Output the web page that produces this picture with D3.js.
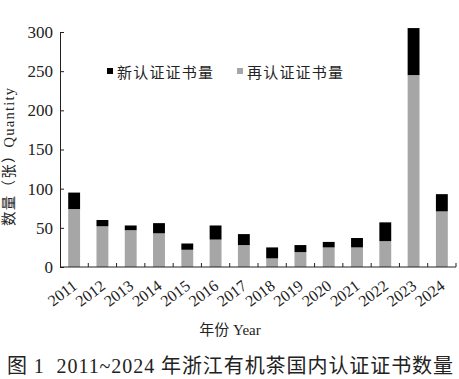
<!DOCTYPE html>
<html><head><meta charset="utf-8">
<script src="https://cdn.jsdelivr.net/npm/d3@7"></script>
<style>
html,body{margin:0;padding:0;background:#fff;}
svg{display:block;}
text{font-family:"Liberation Serif","Noto Sans CJK SC",serif;fill:#222;}
</style></head><body>
<svg id="c" width="459" height="379"></svg>
<script>
const years = ["2011","2012","2013","2014","2015","2016","2017","2018","2019","2020","2021","2022","2023","2024"];
const renewCerts = [74,52,47,43,22,35,28,11,19,25,25,33,245,71];
const newCerts   = [21,8,6,13,8,18,14,14,9,7,12,24,60,22];
const yTicks = [0,50,100,150,200,250,300];
const seriesNames = ["新认证证书量","再认证证书量"];
const seriesColors = ["#000000","#a6a6a6"];

const svg = d3.select("#c");
const x0 = 60, x1 = 456, yBase = 267, yTop = 32;

const x = d3.scaleBand().domain(years).range([x0, x1]).paddingInner(0.58).paddingOuter(0.29);
const y = d3.scaleLinear().domain([0,300]).range([yBase, yTop]);

const rows = years.map((yr,i)=>({year:yr, renew:renewCerts[i], neu:newCerts[i]}));
const stack = d3.stack().keys(["renew","neu"])(rows);
const colorByKey = {renew:seriesColors[1], neu:seriesColors[0]};

svg.append("g").selectAll("g").data(stack).join("g")
  .attr("fill", d=>colorByKey[d.key])
  .selectAll("rect").data(d=>d).join("rect")
  .attr("x", d=>x(d.data.year))
  .attr("width", x.bandwidth())
  .attr("y", d=>y(d[1]))
  .attr("height", d=>y(d[0])-y(d[1]));

// y axis
const ya = svg.append("g").attr("transform",`translate(${x0},0)`)
  .call(d3.axisLeft(y).tickValues(yTicks).tickSizeInner(-4).tickSizeOuter(0).tickPadding(7));
ya.select(".domain").attr("stroke","#222");
ya.selectAll(".tick line").attr("stroke","#222");
ya.selectAll(".tick text").style("font-size","17px").attr("fill","#222").style("font-family","Liberation Serif");

// x axis baseline + inward ticks at band boundaries
svg.append("line").attr("x1",x0).attr("x2",x1).attr("y1",yBase).attr("y2",yBase).attr("stroke","#222");
const step = x.step();
svg.append("g").selectAll("line").data(years).join("line")
  .attr("x1", d=>x(d)+x.bandwidth()/2+step/2).attr("x2", d=>x(d)+x.bandwidth()/2+step/2)
  .attr("y1", yBase).attr("y2", yBase-4).attr("stroke","#222");

// x labels
svg.append("g").selectAll("text").data(years).join("text")
  .attr("transform", d=>`translate(${x(d)+x.bandwidth()/2+4},${288}) rotate(-37)`)
  .attr("text-anchor","end")
  .style("font-size","16px")
  .text(d=>d);

// axis titles
svg.append("text").attr("transform","translate(14,157) rotate(-90)")
  .attr("text-anchor","middle").style("font-size","14.5px")
  .attr("textLength",138).attr("lengthAdjust","spacing")
  .text("数量（张）Quantity");
svg.append("text").attr("x",230).attr("y",335).attr("text-anchor","middle")
  .style("font-size","15px").text("年份 Year");

// legend
const legendX = [107, 237];
const lg = svg.append("g").selectAll("g").data(seriesNames).join("g")
  .attr("transform",(d,i)=>`translate(${legendX[i]},0)`);
lg.append("rect").attr("x",0).attr("y",68).attr("width",6).attr("height",6).attr("fill",(d,i)=>seriesColors[i]);
lg.append("text").attr("x",10).attr("y",78).style("font-size","15px")
  .attr("textLength",96).attr("lengthAdjust","spacing").text(d=>d);

// caption
svg.append("text").attr("x",7).attr("y",373).style("font-size","20px").style("white-space","pre")
  .attr("textLength",446).attr("lengthAdjust","spacing")
  .text("图 1  2011~2024 年浙江有机茶国内认证证书数量");
</script>
</body></html>
